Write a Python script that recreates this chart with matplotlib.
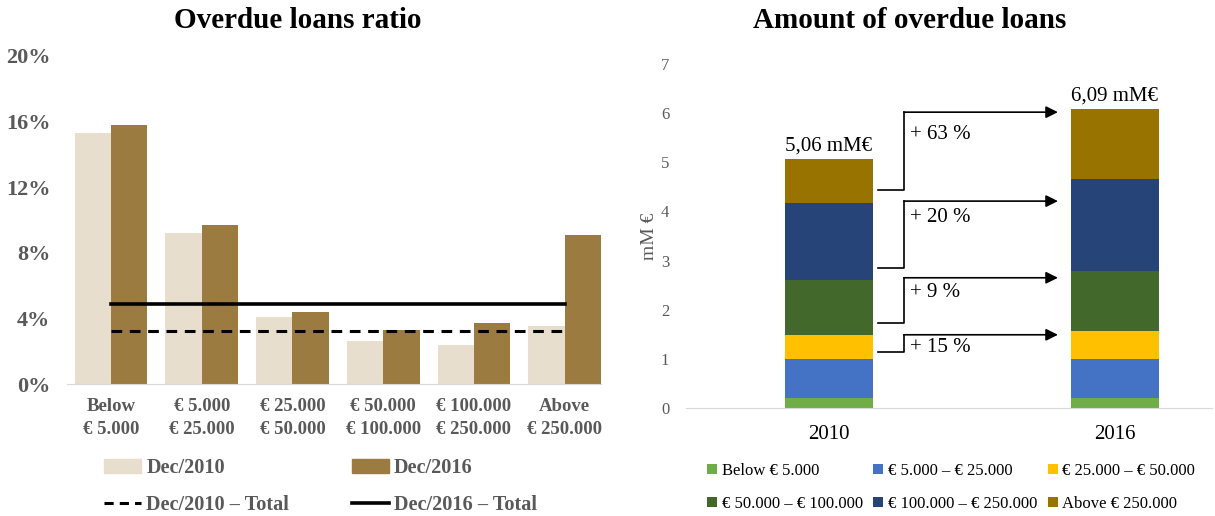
import matplotlib
matplotlib.use('Agg')
import matplotlib.pyplot as plt
from matplotlib.patches import Patch
from matplotlib.lines import Line2D

plt.rcParams['font.family'] = ['Liberation Serif', 'DejaVu Serif']

# left chart data: overdue loans ratio (%)
ratio_cats = ['Below\n€ 5.000', '€ 5.000\n€ 25.000', '€ 25.000\n€ 50.000',
              '€ 50.000\n€ 100.000', '€ 100.000\n€ 250.000', 'Above\n€ 250.000']
ratio_2010 = [15.3, 9.2, 4.1, 2.6, 2.4, 3.55]
ratio_2016 = [15.8, 9.7, 4.4, 3.3, 3.7, 9.1]
total_2010 = 3.25
total_2016 = 4.87

# right chart data: amount of overdue loans (mM €)
years = ['2010', '2016']
seg_names = ['Below € 5.000', '€ 5.000 – € 25.000', '€ 25.000 – € 50.000',
             '€ 50.000 – € 100.000', '€ 100.000 – € 250.000', 'Above € 250.000']
seg_2010 = [0.21, 0.79, 0.49, 1.11, 1.57, 0.89]
seg_2016 = [0.21, 0.79, 0.57, 1.22, 1.87, 1.43]
totals = ['5,06 mM€', '6,09 mM€']
growth = ['+ 15 %', '+ 9 %', '+ 20 %', '+ 63 %']
seg_colors = ['#70AD47', '#4472C4', '#FFC000', '#43682B', '#264478', '#997300']

grey = '#595959'
c2010 = '#E8DECD'
c2016 = '#9B7B3F'

fig = plt.figure(figsize=(12.15, 5.16), dpi=100)

# ---------- left: ratio ----------
ax1 = fig.add_axes([67/1215, 1-384/516, 534/1215, 328/516])
x = list(range(len(ratio_cats)))
ax1.bar([i - 0.2 for i in x], ratio_2010, width=0.4, color=c2010, label='Dec/2010')
ax1.bar([i + 0.2 for i in x], ratio_2016, width=0.4, color=c2016, label='Dec/2016')
ax1.plot([0, 5], [total_2010, total_2010], color='black', lw=2.2, ls=(0, (3.5, 2.5)))
ax1.plot([0, 5], [total_2016, total_2016], color='black', lw=2.6)
ax1.set_xlim(-0.485, 5.4)
ax1.set_ylim(0, 20)
ax1.set_yticks([0, 4, 8, 12, 16, 20])
ax1.set_yticklabels(['0%', '4%', '8%', '12%', '16%', '20%'])
ax1.set_xticks(x)
ax1.set_xticklabels(ratio_cats, linespacing=1.45)
ax1.tick_params(axis='x', length=0, labelsize=13.5, labelcolor=grey, pad=10)
ax1.tick_params(axis='y', length=0, labelsize=16, labelcolor=grey, pad=12)
for t in ax1.get_xticklabels() + ax1.get_yticklabels():
    t.set_fontweight('bold')
for s in ['top', 'right', 'left']:
    ax1.spines[s].set_visible(False)
ax1.spines['bottom'].set_color('#D9D9D9')

handles1 = [Patch(color=c2010), Line2D([], [], color='black', lw=2.2, ls=(0, (3, 2))),
            Patch(color=c2016), Line2D([], [], color='black', lw=2.6)]
labels1 = ['Dec/2010', 'Dec/2010 – Total', 'Dec/2016', 'Dec/2016 – Total']
leg1 = fig.legend(handles1, labels1, ncol=2, loc='upper left',
                  bbox_to_anchor=(86/1215, 1-440/516), frameon=False,
                  prop={'size': 14.6, 'weight': 'bold'}, handlelength=1.82,
                  handletextpad=0.25, columnspacing=3.1, labelspacing=0.85)
for t in leg1.get_texts():
    t.set_color(grey)

fig.text(298/1215, 1-20/516, 'Overdue loans ratio', ha='center', va='center',
         fontsize=21, fontweight='bold')

# ---------- right: amounts ----------
ax2 = fig.add_axes([686/1215, 1-408/516, 526/1215, 344/516])
w = 0.308
bottom = [0, 0]
for k in range(len(seg_names)):
    vals = [seg_2010[k], seg_2016[k]]
    ax2.bar([0, 1], vals, width=w, bottom=bottom, color=seg_colors[k], label=seg_names[k])
    bottom = [bottom[0] + vals[0], bottom[1] + vals[1]]
for i in range(2):
    ax2.text(i, bottom[i] + 0.07, totals[i], ha='center', va='bottom', fontsize=15)

# growth arrows between the bars
arrow_from = [1.14, 1.73, 2.85, 4.44]
arrow_to = [1.49, 2.65, 4.21, 6.02]
label_y = [1.24, 2.36, 3.87, 5.56]
xs = w/2 + 0.017
xe = w/2 + 0.11
xt = 1 - w/2 - 0.045
for a, b, ly, g in zip(arrow_from, arrow_to, label_y, growth):
    ax2.plot([xs, xe, xe], [a, a, b], color='black', lw=1.2)
    ax2.annotate('', xy=(xt, b), xytext=(xe - 0.002, b),
                 arrowprops=dict(arrowstyle='-|>', color='black', lw=1.2,
                                 mutation_scale=18, shrinkA=0, shrinkB=0))
    ax2.text(xe + 0.02, ly, g, ha='left', va='center', fontsize=15)

ax2.set_xlim(-0.5, 1.34)
ax2.set_ylim(0, 7)
ax2.set_yticks(range(8))
ax2.set_xticks([0, 1])
ax2.set_xticklabels(years)
ax2.tick_params(axis='y', length=0, labelsize=12, labelcolor=grey, pad=12)
ax2.tick_params(axis='x', length=0, labelsize=15, pad=12)
ax2.set_ylabel('mM €', fontsize=14, color=grey, labelpad=2)
for s in ['top', 'right', 'left']:
    ax2.spines[s].set_visible(False)
ax2.spines['bottom'].set_color('#D9D9D9')

h2, l2 = ax2.get_legend_handles_labels()
order = [0, 3, 1, 4, 2, 5]
fig.legend([h2[i] for i in order], [l2[i] for i in order], ncol=3, loc='upper left',
           bbox_to_anchor=(692/1215, 1-448/516), frameon=False, fontsize=12,
           handlelength=0.6, handleheight=0.6, handletextpad=0.3,
           columnspacing=0.6, labelspacing=1.0)

fig.text(910/1215, 1-20/516, 'Amount of overdue loans', ha='center', va='center',
         fontsize=21, fontweight='bold')

fig.savefig('out.png', dpi=100)
